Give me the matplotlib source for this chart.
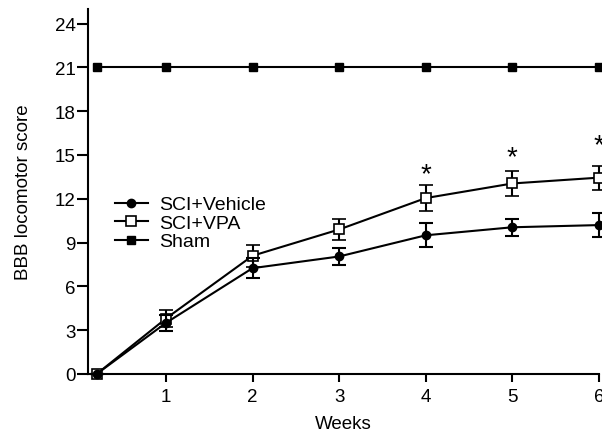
import numpy as np
import matplotlib.pyplot as plt

plt.rcParams['font.family'] = ['Liberation Sans', 'DejaVu Sans']

# Weeks after injury (first point plotted just right of the y-axis)
weeks = [0.2, 1, 2, 3, 4, 5, 6]
vehicle = [0, 3.5, 7.25, 8.05, 9.5, 10.05, 10.2]
vehicle_err = [0, 0.55, 0.7, 0.6, 0.82, 0.6, 0.82]
vpa = [0, 3.8, 8.1, 9.9, 12.05, 13.05, 13.45]
vpa_err = [0, 0.6, 0.75, 0.7, 0.88, 0.85, 0.82]
sham = [21, 21, 21, 21, 21, 21, 21]
star_weeks = [4, 5, 6]
star_y = [13.2, 14.4, 15.2]

fig = plt.figure(figsize=(6.02, 4.39), dpi=100)
ax = fig.add_axes([88/602, 64/439, 511/602, 365/439])

kw = dict(color='black', lw=1.5, capsize=5, capthick=1.5, elinewidth=1.5, clip_on=False)
h_veh = ax.errorbar(weeks, vehicle, yerr=vehicle_err, fmt='-o', ms=6, mfc='black',
                    zorder=4, **kw)
h_vpa = ax.errorbar(weeks, vpa, yerr=vpa_err, fmt='-s', ms=7, mfc='white', mew=1.2,
                    zorder=3, **kw)
h_sham, = ax.plot(weeks, sham, '-s', color='black', lw=1.5, ms=6, clip_on=False)

for w, y in zip(star_weeks, star_y):
    ax.text(w, y, '*', ha='center', va='baseline', fontsize=20, clip_on=False)

ax.set_xlim(0.1, 6.0)
ax.set_ylim(0, 25)
ax.set_xticks([1, 2, 3, 4, 5, 6])
ax.set_yticks([0, 3, 6, 9, 12, 15, 18, 21, 24])
ax.tick_params(axis='y', direction='out', length=8, width=1.5, labelsize=13.5, pad=1)
ax.tick_params(axis='x', direction='out', length=6, width=1.5, labelsize=13.5, pad=4)
ax.spines['top'].set_visible(False)
ax.spines['right'].set_visible(False)
ax.spines['left'].set_linewidth(1.5)
ax.spines['bottom'].set_linewidth(1.5)
ax.set_xlabel('Weeks', fontsize=13.5)
ax.set_ylabel('BBB locomotor score', fontsize=13.5)
ax.yaxis.set_label_coords(-0.109, 0.5)
ax.xaxis.set_label_coords(0.5, -0.112)

ax.legend([h_veh[0], h_vpa[0], h_sham], ['SCI+Vehicle', 'SCI+VPA', 'Sham'],
          loc='upper left', bbox_to_anchor=(105/602, 1 - 187/439), bbox_transform=fig.transFigure,
          frameon=False, fontsize=14, handlelength=1.7, handletextpad=0.6,
          labelspacing=0.05, borderpad=0)

fig.savefig('out.png', dpi=100)
